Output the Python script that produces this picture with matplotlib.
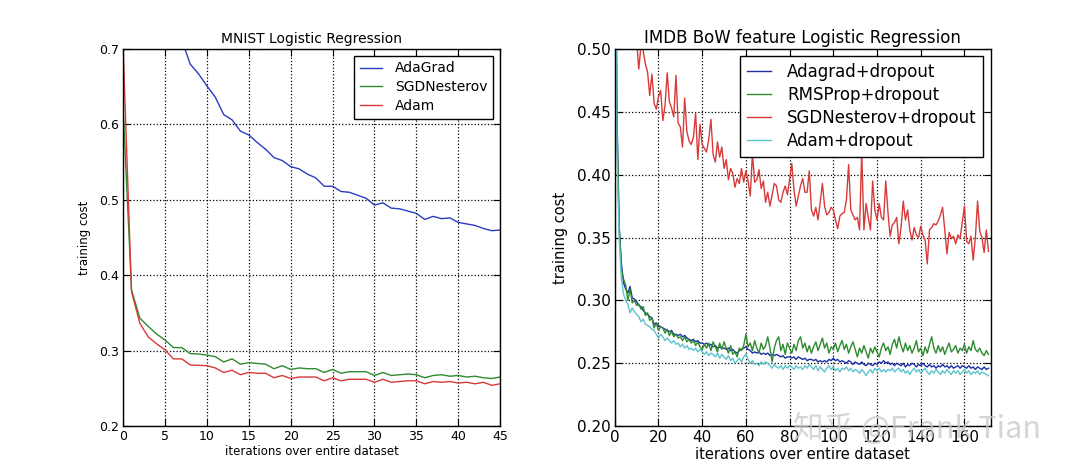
import numpy as np
import matplotlib
matplotlib.use("Agg")
import matplotlib.pyplot as plt

# ---- MNIST logistic regression (left) ----
mnist_iter = list(range(46))
mnist_adagrad = [2.0, 1.1, 0.95, 0.87, 0.81, 0.77, 0.74, 0.712, 0.68, 0.667,
                 0.651, 0.636, 0.613, 0.606, 0.591, 0.586, 0.576, 0.567, 0.556, 0.552,
                 0.544, 0.541, 0.534, 0.529, 0.518, 0.518, 0.511, 0.510, 0.506, 0.502,
                 0.493, 0.496, 0.489, 0.488, 0.485, 0.482, 0.474, 0.478, 0.475, 0.476,
                 0.470, 0.468, 0.466, 0.462, 0.459, 0.460]
mnist_sgdn = [0.62, 0.380, 0.343, 0.332, 0.322, 0.314, 0.304, 0.304, 0.296, 0.2955,
              0.294, 0.292, 0.285, 0.289, 0.282, 0.284, 0.283, 0.282, 0.276, 0.280,
              0.275, 0.277, 0.276, 0.276, 0.271, 0.275, 0.270, 0.272, 0.272, 0.272,
              0.267, 0.271, 0.267, 0.268, 0.269, 0.268, 0.264, 0.267, 0.268, 0.266,
              0.267, 0.265, 0.266, 0.264, 0.263, 0.265]
mnist_adam = [0.70, 0.378, 0.336, 0.318, 0.309, 0.301, 0.289, 0.289, 0.281, 0.2805,
              0.280, 0.277, 0.271, 0.274, 0.268, 0.271, 0.270, 0.270, 0.264, 0.267,
              0.263, 0.265, 0.265, 0.265, 0.260, 0.264, 0.260, 0.262, 0.262, 0.262,
              0.258, 0.262, 0.258, 0.259, 0.260, 0.260, 0.256, 0.259, 0.258, 0.259,
              0.257, 0.258, 0.256, 0.258, 0.254, 0.256]

# ---- IMDB BoW logistic regression (right) ----
imdb_iter = list(range(172))
imdb_adagrad = [
    0.69, 0.45, 0.36, 0.33, 0.314, 0.309, 0.306, 0.311, 0.302, 0.301,
    0.299, 0.296, 0.295, 0.292, 0.290, 0.289, 0.287, 0.286, 0.281, 0.282,
    0.280, 0.279, 0.278, 0.277, 0.276, 0.275, 0.276, 0.273, 0.273, 0.272,
    0.273, 0.271, 0.272, 0.270, 0.269, 0.268, 0.269, 0.267, 0.268, 0.266,
    0.266, 0.265, 0.266, 0.264, 0.265, 0.263, 0.264, 0.262, 0.263, 0.262,
    0.262, 0.261, 0.262, 0.260, 0.261, 0.259, 0.258, 0.260, 0.261, 0.262,
    0.263, 0.261, 0.260, 0.258, 0.259, 0.258, 0.259, 0.257, 0.258, 0.257,
    0.258, 0.256, 0.257, 0.256, 0.257, 0.256, 0.255, 0.256, 0.254, 0.255,
    0.255, 0.254, 0.255, 0.253, 0.255, 0.254, 0.253, 0.254, 0.252, 0.253,
    0.253, 0.252, 0.253, 0.251, 0.252, 0.251, 0.252, 0.251, 0.253, 0.252,
    0.254, 0.252, 0.253, 0.251, 0.252, 0.251, 0.250, 0.252, 0.251, 0.249,
    0.251, 0.250, 0.249, 0.251, 0.249, 0.248, 0.250, 0.249, 0.248, 0.250,
    0.249, 0.251, 0.250, 0.252, 0.250, 0.251, 0.249, 0.250, 0.248, 0.250,
    0.249, 0.248, 0.250, 0.247, 0.249, 0.248, 0.250, 0.249, 0.247, 0.249,
    0.248, 0.250, 0.248, 0.247, 0.249, 0.247, 0.248, 0.246, 0.248, 0.247,
    0.249, 0.247, 0.248, 0.246, 0.248, 0.246, 0.247, 0.248, 0.246, 0.248,
    0.247, 0.246, 0.248, 0.246, 0.247, 0.245, 0.247, 0.246, 0.245, 0.247,
    0.245, 0.246]
imdb_rmsprop = [
    0.69, 0.44, 0.36, 0.325, 0.317, 0.312, 0.300, 0.309, 0.298, 0.300,
    0.296, 0.297, 0.293, 0.295, 0.288, 0.290, 0.284, 0.286, 0.278, 0.282,
    0.276, 0.279, 0.278, 0.274, 0.277, 0.272, 0.275, 0.271, 0.273, 0.270,
    0.271, 0.268, 0.271, 0.267, 0.269, 0.266, 0.268, 0.264, 0.267, 0.263,
    0.261, 0.265, 0.262, 0.266, 0.260, 0.267, 0.263, 0.259, 0.266, 0.261,
    0.267, 0.262, 0.258, 0.264, 0.257, 0.259, 0.255, 0.262, 0.260, 0.264,
    0.273, 0.263, 0.266, 0.260, 0.268, 0.262, 0.258, 0.266, 0.261, 0.264,
    0.271, 0.262, 0.251, 0.262, 0.268, 0.271, 0.260, 0.265, 0.257, 0.266,
    0.262, 0.258, 0.265, 0.260, 0.268, 0.271, 0.262, 0.266, 0.259, 0.264,
    0.258, 0.263, 0.267, 0.260, 0.265, 0.270, 0.262, 0.266, 0.258, 0.263,
    0.261, 0.266, 0.259, 0.264, 0.268, 0.261, 0.265, 0.258, 0.263, 0.267,
    0.261, 0.255, 0.262, 0.258, 0.264, 0.259, 0.254, 0.262, 0.258, 0.263,
    0.259, 0.255, 0.262, 0.266, 0.260, 0.263, 0.257, 0.265, 0.269, 0.262,
    0.271, 0.264, 0.259, 0.266, 0.260, 0.264, 0.258, 0.262, 0.268, 0.259,
    0.262, 0.256, 0.263, 0.258, 0.265, 0.271, 0.262, 0.258, 0.264, 0.259,
    0.263, 0.257, 0.262, 0.266, 0.259, 0.261, 0.264, 0.258, 0.262, 0.260,
    0.265, 0.258, 0.263, 0.260, 0.268, 0.261, 0.259, 0.262, 0.258, 0.256,
    0.260, 0.257]
imdb_sgdn = [
    0.69, 0.64, 0.61, 0.59, 0.57, 0.555, 0.545, 0.535, 0.525, 0.515,
    0.507, 0.484, 0.503, 0.499, 0.488, 0.482, 0.463, 0.480, 0.457, 0.452,
    0.462, 0.467, 0.443, 0.455, 0.481, 0.458, 0.453, 0.446, 0.479, 0.441,
    0.438, 0.422, 0.461, 0.434, 0.427, 0.424, 0.430, 0.449, 0.412, 0.440,
    0.424, 0.421, 0.418, 0.428, 0.444, 0.416, 0.410, 0.426, 0.414, 0.422,
    0.405, 0.412, 0.396, 0.405, 0.401, 0.390, 0.397, 0.393, 0.405, 0.394,
    0.403, 0.395, 0.383, 0.417, 0.394, 0.396, 0.404, 0.389, 0.395, 0.378,
    0.386, 0.375, 0.384, 0.393, 0.391, 0.380, 0.378, 0.386, 0.391, 0.384,
    0.396, 0.409, 0.388, 0.375, 0.383, 0.391, 0.397, 0.386, 0.386, 0.403,
    0.372, 0.367, 0.374, 0.364, 0.378, 0.393, 0.375, 0.368, 0.370, 0.374,
    0.372, 0.364, 0.357, 0.367, 0.369, 0.370, 0.380, 0.408, 0.372, 0.368,
    0.364, 0.366, 0.356, 0.418, 0.356, 0.377, 0.366, 0.356, 0.395, 0.372,
    0.364, 0.377, 0.366, 0.364, 0.395, 0.370, 0.351, 0.360, 0.362, 0.366,
    0.345, 0.358, 0.379, 0.364, 0.372, 0.356, 0.348, 0.358, 0.352, 0.350,
    0.359, 0.352, 0.348, 0.329, 0.356, 0.358, 0.361, 0.360, 0.363, 0.368,
    0.374, 0.356, 0.337, 0.354, 0.349, 0.351, 0.345, 0.352, 0.349, 0.362,
    0.375, 0.347, 0.345, 0.351, 0.332, 0.350, 0.379, 0.355, 0.350, 0.338,
    0.356, 0.339]
imdb_adam = [
    0.69, 0.42, 0.35, 0.318, 0.305, 0.300, 0.297, 0.290, 0.294, 0.291,
    0.289, 0.287, 0.283, 0.285, 0.281, 0.280, 0.279, 0.277, 0.276, 0.273,
    0.270, 0.273, 0.271, 0.268, 0.270, 0.268, 0.266, 0.268, 0.265, 0.266,
    0.263, 0.265, 0.262, 0.264, 0.261, 0.262, 0.260, 0.262, 0.259, 0.261,
    0.259, 0.257, 0.259, 0.256, 0.258, 0.257, 0.255, 0.258, 0.254, 0.257,
    0.255, 0.253, 0.256, 0.252, 0.254, 0.250, 0.252, 0.254, 0.251, 0.255,
    0.257, 0.253, 0.250, 0.252, 0.249, 0.250, 0.248, 0.251, 0.249, 0.251,
    0.250, 0.248, 0.246, 0.249, 0.247, 0.246, 0.248, 0.245, 0.248, 0.246,
    0.248, 0.247, 0.245, 0.248, 0.246, 0.247, 0.245, 0.248, 0.246, 0.249,
    0.247, 0.245, 0.248, 0.244, 0.247, 0.245, 0.243, 0.246, 0.248, 0.245,
    0.247, 0.244, 0.246, 0.243, 0.246, 0.245, 0.247, 0.244, 0.246, 0.243,
    0.245, 0.244, 0.242, 0.245, 0.243, 0.240, 0.243, 0.245, 0.242, 0.246,
    0.244, 0.246, 0.243, 0.245, 0.243, 0.245, 0.244, 0.246, 0.243, 0.245,
    0.246, 0.243, 0.245, 0.242, 0.244, 0.241, 0.244, 0.246, 0.243, 0.245,
    0.242, 0.244, 0.246, 0.243, 0.241, 0.244, 0.242, 0.245, 0.243, 0.241,
    0.244, 0.242, 0.245, 0.243, 0.241, 0.244, 0.242, 0.244, 0.241, 0.243,
    0.245, 0.242, 0.244, 0.241, 0.243, 0.242, 0.244, 0.241, 0.243, 0.242,
    0.241, 0.240]


def style_axes(ax, fs):
    # old-matplotlib look: ticks inside on all sides, dotted black grid
    ax.tick_params(direction="in", top=True, right=True, labelsize=fs,
                   length=5, width=0.8, pad=3)
    ax.grid(True, linestyle=":", color="black", linewidth=0.9)
    for sp in ax.spines.values():
        sp.set_color("black")
        sp.set_linewidth(1.0)


fig = plt.figure(figsize=(10.71, 4.71), dpi=100)

# left panel
ax1 = fig.add_axes([0.115, 0.0955, 0.352, 0.8005])
ax1.plot(mnist_iter, mnist_adagrad, color="#2b3cc0", lw=1.0, label="AdaGrad")
ax1.plot(mnist_iter, mnist_sgdn, color="#2e8a2e", lw=1.0, label="SGDNesterov")
ax1.plot(mnist_iter, mnist_adam, color="#d83a3a", lw=1.0, label="Adam")
ax1.set_xlim(0, 45)
ax1.set_ylim(0.2, 0.7)
ax1.set_xticks(range(0, 46, 5))
ax1.set_yticks([0.2, 0.3, 0.4, 0.5, 0.6, 0.7])
ax1.set_yticklabels(["0.2", "0.3", "0.4", "0.5", "0.6", "0.7"])
style_axes(ax1, 9)
ax1.set_title("MNIST Logistic Regression", fontsize=10, pad=4)
ax1.set_xlabel("iterations over entire dataset", fontsize=8.5, labelpad=1)
ax1.set_ylabel("training cost", fontsize=8.5, labelpad=6)
leg1 = ax1.legend(loc="upper right", fontsize=10, handlelength=1.6,
                  handletextpad=0.95, fancybox=False, framealpha=1,
                  borderpad=0.4, labelspacing=0.35)
leg1.get_frame().set_edgecolor("black")

# right panel
ax2 = fig.add_axes([0.574, 0.0955, 0.351, 0.8005])
ax2.plot(imdb_iter, imdb_adagrad, color="#1c2fa8", lw=1.0, label="Adagrad+dropout")
ax2.plot(imdb_iter, imdb_rmsprop, color="#2e8a2e", lw=1.0, label="RMSProp+dropout")
ax2.plot(imdb_iter, imdb_sgdn, color="#d83a3a", lw=1.0, label="SGDNesterov+dropout")
ax2.plot(imdb_iter, imdb_adam, color="#5cc4cc", lw=1.0, label="Adam+dropout")
ax2.set_xlim(0, 172)
ax2.set_ylim(0.2, 0.5)
ax2.set_xticks(range(0, 161, 20))
ax2.set_yticks([0.20, 0.25, 0.30, 0.35, 0.40, 0.45, 0.50])
ax2.set_yticklabels(["0.20", "0.25", "0.30", "0.35", "0.40", "0.45", "0.50"])
style_axes(ax2, 11)
ax2.set_title("IMDB BoW feature Logistic Regression", fontsize=12, pad=4)
ax2.set_xlabel("iterations over entire dataset", fontsize=10.5, labelpad=1)
ax2.set_ylabel("training cost", fontsize=10.5, labelpad=6)
leg2 = ax2.legend(loc="upper right", fontsize=12, handlelength=1.45,
                  handletextpad=0.95, fancybox=False, framealpha=1,
                  borderpad=0.4, labelspacing=0.3, borderaxespad=0.45)
leg2.get_frame().set_edgecolor("black")

# watermark
fig.text(0.972, 0.09, "知乎 @Frank Tian", ha="right", va="center", fontsize=22,
         color="#c8c8c8", alpha=0.75,
         family=["Noto Sans CJK SC", "DejaVu Sans"])

fig.savefig("out.png", dpi=100)
